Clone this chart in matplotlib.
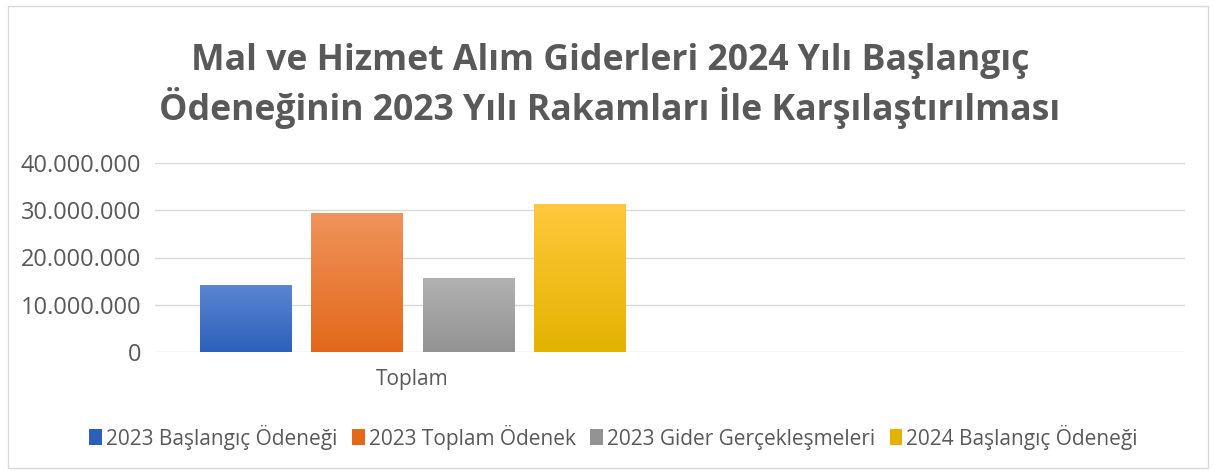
import numpy as np
import matplotlib
matplotlib.use("Agg")
import matplotlib.pyplot as plt
from matplotlib.colors import LinearSegmentedColormap
from matplotlib.patches import Patch, Rectangle
from matplotlib.ticker import FuncFormatter

# Veriler
categories = ["Toplam", ""]
series_names = ["2023 Başlangıç Ödeneği", "2023 Toplam Ödenek",
                "2023 Gider Gerçekleşmeleri", "2024 Başlangıç Ödeneği"]
values = [14200000, 29400000, 15700000, 31300000]
top_colors = ["#5b86d1", "#f0935c", "#b2b2b2", "#ffc83d"]
bottom_colors = ["#2d60bb", "#e2691a", "#939393", "#e3b300"]

title = "Mal ve Hizmet Alım Giderleri 2024 Yılı Başlangıç\nÖdeneğinin 2023 Yılı Rakamları İle Karşılaştırılması"
yticks = [0, 10000000, 20000000, 30000000, 40000000]

plt.rcParams['font.family'] = ['Open Sans', 'DejaVu Sans']
text_col = "#595959"

fig = plt.figure(figsize=(12.15, 4.71), dpi=100)
ax = fig.add_axes([155 / 1215, 1 - 352 / 471, 1030 / 1215, 189 / 471])

# chart çerçevesi
fig.patches.append(Rectangle((8 / 1215, 3 / 471), 1200 / 1215, 462 / 471,
                             transform=fig.transFigure, fill=False,
                             edgecolor="#d9d9d9", linewidth=1))

x = np.arange(len(categories))
bw = 0.177
offsets = (np.arange(4) - 1.5) * (bw * 1.22)
bars = []
for i, v in enumerate(values):
    b = ax.bar(x[0] + offsets[i], v, width=bw, color=bottom_colors[i], zorder=3)
    bars.append(b[0])

# gradyan dolgu
for i, rect in enumerate(bars):
    cmap = LinearSegmentedColormap.from_list("g%d" % i, [bottom_colors[i], top_colors[i]])
    grad = np.linspace(0, 1, 256).reshape(-1, 1)
    x0, w, h = rect.get_x(), rect.get_width(), rect.get_height()
    im = ax.imshow(grad, cmap=cmap, aspect="auto", origin="lower",
                   extent=[x0, x0 + w, 0, h], zorder=4)
    im.set_clip_path(rect)
ax.set_xlim(-0.5, 1.5)
ax.set_ylim(0, 40000000)

ax.set_yticks(yticks)
ax.yaxis.set_major_formatter(FuncFormatter(lambda v, p: f"{int(v):,}".replace(",", ".")))
ax.set_xticks(x)
ax.set_xticklabels(categories)
ax.tick_params(axis="y", length=0, labelsize=17, colors=text_col, pad=10)
ax.tick_params(axis="x", length=0, labelsize=15, colors=text_col, pad=12)
ax.grid(axis="y", color="#d9d9d9", linewidth=1, zorder=0)
for s in ax.spines.values():
    s.set_visible(False)

fig.text(0.502, 1 - 86 / 471, title, ha="center", va="center", fontsize=25.7,
         fontweight="bold", color=text_col, linespacing=1.25)

handles = [Patch(facecolor=c, edgecolor="none") for c in bottom_colors]
fig.legend(handles, series_names, loc="center", bbox_to_anchor=(0.505, 1 - 437 / 471),
           ncol=4, frameon=False, fontsize=15, handlelength=0.6, handleheight=0.8,
           handletextpad=0.2, columnspacing=0.7, labelcolor=text_col)

fig.savefig("out.png", dpi=100)
